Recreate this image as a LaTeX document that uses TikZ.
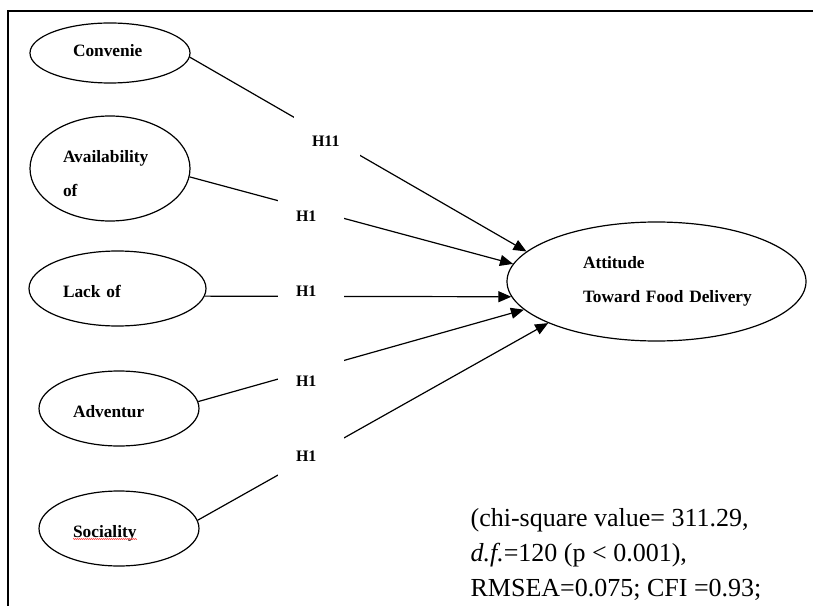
\documentclass[tikz,border=0pt]{standalone}
\usepackage{fontspec}
\setmainfont{Liberation Serif}
\usetikzlibrary{shapes.geometric,arrows.meta,decorations.pathmorphing}

\tikzset{every picture/.style={line width=0.9pt}}
\tikzset{
  latent/.style={draw, ellipse, inner sep=0pt, align=left, font=\fontsize{13}{26}\selectfont\bfseries},
  hyp/.style={fill=white, text width=22.5pt, align=left, inner xsep=13.5pt, inner ysep=0pt, minimum height=40.5pt, font=\fontsize{12}{14}\selectfont\bfseries},
  arr/.style={-{Triangle[length=9.75pt,width=8.25pt]}}
}

\begin{document}
\begin{tikzpicture}[x=0.75pt,y=0.75pt,yscale=-1,xscale=1]
\useasboundingbox (0,0) rectangle (813,606);

%Shape: Frame
\draw [line width=1.2pt] (8,620) -- (8,11) -- (820,11);

%Shape: Ellipse
\node [latent, minimum width=120pt, minimum height=45pt, text width=55.5pt, text height=9pt, text depth=3pt] (conv) at (110,53) {Convenie};
%Shape: Ellipse
\node [latent, minimum width=120pt, minimum height=78.75pt, text width=70.5pt, text height=9pt, text depth=18.75pt] (avail) at (110,168.5) {Availability\\of};
%Shape: Ellipse
\node [latent, minimum width=132.75pt, minimum height=56.25pt, text width=81.75pt, text height=12.75pt, text depth=0pt] (lack) at (117.5,288.5) {Lack of};
%Shape: Ellipse
\node [latent, minimum width=120pt, minimum height=56.25pt, text width=69pt, text height=12.75pt, text depth=0pt] (adv) at (119,408.5) {Adventur};
%Shape: Ellipse
\node [latent, minimum width=120pt, minimum height=56.25pt, text width=69pt, text height=12.75pt, text depth=0pt] (soc) at (119,528.5) {Sociality};
%Shape: Ellipse
\node [latent, minimum width=224.25pt, minimum height=89.25pt, text width=110.25pt] (att) at (656.5,281.5) {Attitude\\\mbox{Toward Food Delivery}};

%Straight Lines
\draw [arr] (conv.-3) -- (att.167);
\draw [arr] (avail.-6) -- (att.173);
\draw [arr] (lack.-5) -- (att.186);
\draw [arr] (adv.5) -- (att.192);
\draw [arr] (soc.6) -- (att.201);

% Text Node
\node [hyp] (h11) at (327,141) {H11};
\node [hyp] (h1a) at (311,216.5) {H1};
\node [hyp] (h1b) at (311,291) {H1};
\node [hyp] (h1c) at (311,381) {H1};
\node [hyp] (h1d) at (311,456) {H1};

% Text Node
\node [anchor=west, inner sep=0pt, align=left, font=\fontsize{19.5}{26.25}\selectfont] (fit) at (470,554) {(chi-square value= 311.29,\\\textit{d.f.}=120 (p < 0.001),\\RMSEA=0.075; CFI =0.93;};

%Curve Lines
\draw [red!80, line width=0.4pt, decorate, decoration={zigzag, segment length=1.5pt, amplitude=0.4pt}] (73,539) -- (137,539);

\end{tikzpicture}
\end{document}
